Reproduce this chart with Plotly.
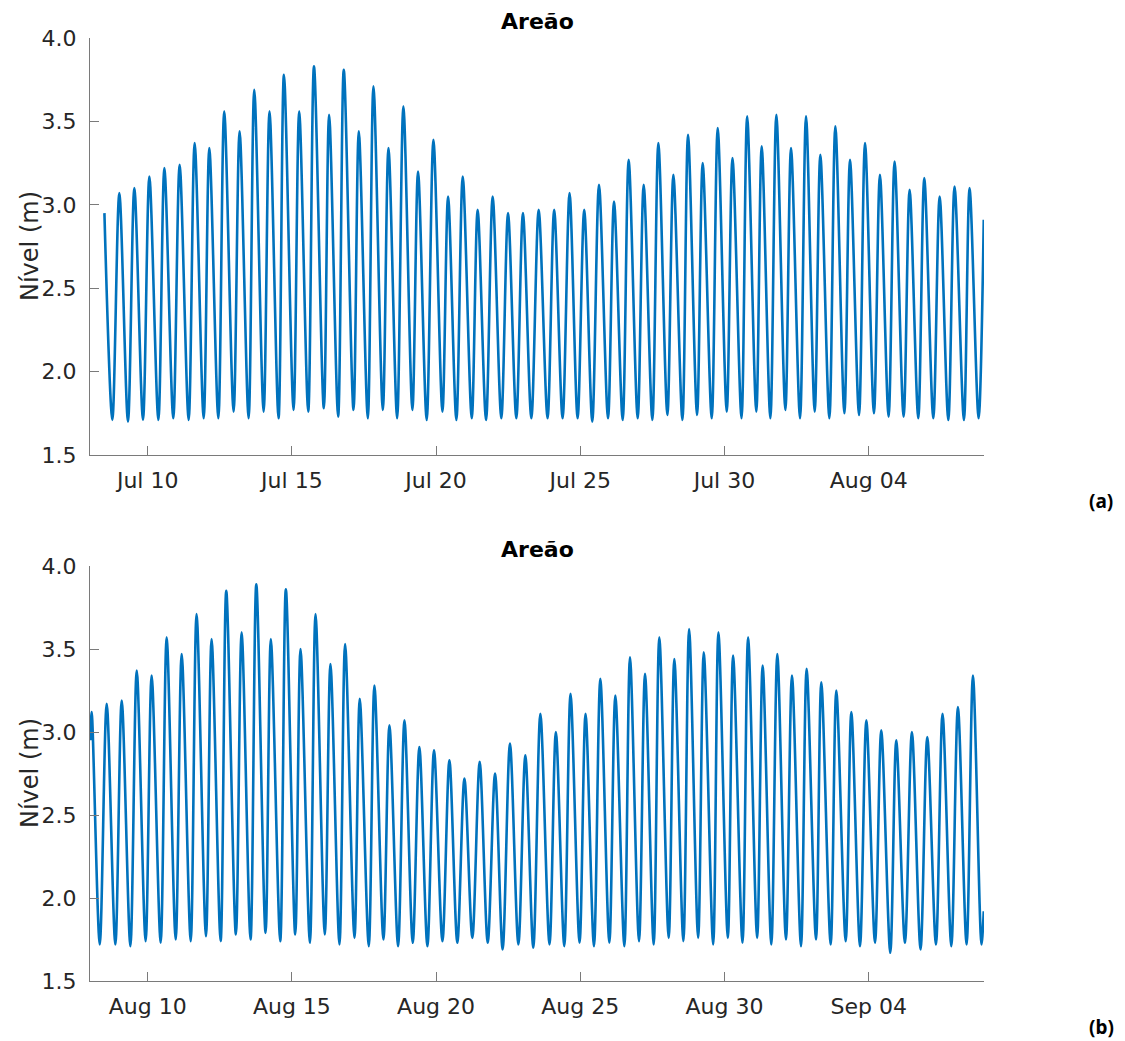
import pandas as pd
import plotly.graph_objects as go

# Tide level at Areão: high/low water turning points (hours after the reference day) and level in metres
top_ref = "2020-07-10 00:00"
top_hours = [
    -36.0, -29.4, -23.6, -16.4, -11.1, -3.9, 1.4, 8.9, 13.9, 21.3,
    26.6, 34.1, 39.1, 46.6, 51.3, 58.8, 63.7, 71.5, 76.5, 84.0,
    88.7, 96.5, 101.4, 108.9, 113.4, 121.4, 126.1, 133.6, 138.4, 146.6,
    151.0, 158.5, 163.2, 171.3, 175.7, 183.2, 187.9, 195.7, 200.4, 207.6,
    212.8, 220.3, 225.0, 232.2, 237.8, 245.3, 250.0, 256.9, 262.2, 269.7,
    274.6, 281.6, 287.1, 294.3, 299.9, 306.8, 312.3, 319.3, 325.4, 332.8,
    338.3, 345.3, 351.1, 357.8, 363.3, 370.0, 375.6, 383.1, 388.1, 395.3,
    400.3, 407.8, 412.8, 420.0, 425.0, 432.5, 437.5, 445.0, 449.7, 457.2,
    461.9, 469.4, 474.4, 481.9, 486.7, 494.2, 498.9, 506.5, 511.0, 518.2,
    523.2, 530.7, 535.4, 542.9, 547.9, 555.1, 559.8, 567.3, 572.3, 579.8,
    584.5, 592.0, 597.0, 604.4, 609.4, 616.6, 621.6, 629.1, 634.1, 641.3,
    646.3, 653.8, 659.1, 666.3, 671.5, 679.3, 684.0, 691.5, 695.8,
]
top_level = [
    2.95, 1.71, 3.07, 1.70, 3.10, 1.71, 3.17, 1.71, 3.22, 1.72,
    3.24, 1.71, 3.37, 1.72, 3.34, 1.72, 3.56, 1.76, 3.44, 1.72,
    3.69, 1.76, 3.56, 1.72, 3.78, 1.77, 3.56, 1.76, 3.83, 1.78,
    3.54, 1.73, 3.81, 1.77, 3.44, 1.72, 3.71, 1.77, 3.34, 1.72,
    3.59, 1.77, 3.20, 1.71, 3.39, 1.76, 3.05, 1.71, 3.17, 1.72,
    2.97, 1.71, 3.05, 1.72, 2.95, 1.72, 2.95, 1.72, 2.97, 1.72,
    2.97, 1.72, 3.07, 1.72, 2.97, 1.70, 3.12, 1.72, 3.02, 1.71,
    3.27, 1.72, 3.12, 1.71, 3.37, 1.74, 3.18, 1.71, 3.42, 1.74,
    3.25, 1.72, 3.46, 1.76, 3.28, 1.72, 3.53, 1.76, 3.35, 1.72,
    3.54, 1.77, 3.34, 1.72, 3.53, 1.76, 3.30, 1.72, 3.47, 1.75,
    3.27, 1.74, 3.37, 1.75, 3.18, 1.73, 3.26, 1.73, 3.09, 1.72,
    3.16, 1.72, 3.05, 1.71, 3.11, 1.71, 3.10, 1.72, 2.91,
]

bottom_ref = "2020-08-10 00:00"
bottom_hours = [
    -47.7, -46.6, -39.9, -34.1, -26.9, -21.6, -14.4, -9.1, -1.7, 3.3,
    10.8, 15.8, 23.3, 28.3, 35.8, 40.7, 48.5, 53.2, 60.7, 65.4,
    73.4, 78.2, 85.6, 90.4, 98.1, 102.5, 110.3, 115.0, 122.8, 127.2,
    135.0, 139.7, 147.4, 152.1, 159.6, 164.3, 172.1, 176.5, 184.0, 188.7,
    196.2, 201.2, 208.4, 213.7, 220.6, 226.1, 232.8, 238.3, 245.3, 251.1,
    257.7, 263.6, 270.2, 276.3, 283.0, 289.1, 295.4, 301.5, 308.5, 314.3,
    320.9, 326.8, 334.4, 339.7, 346.7, 351.9, 359.4, 364.4, 371.4, 376.7,
    384.2, 389.2, 396.7, 401.4, 408.9, 413.9, 421.1, 425.8, 433.6, 438.3,
    445.8, 450.6, 458.1, 462.8, 470.6, 475.0, 482.8, 487.2, 495.0, 499.7,
    507.2, 511.8, 519.0, 524.0, 531.2, 536.2, 543.7, 548.4, 556.2, 560.6,
    568.4, 573.1, 580.9, 585.6, 592.8, 598.1, 605.3, 610.5, 618.0, 623.0,
    630.2, 636.0, 643.2, 648.8, 656.0, 661.5, 668.8, 674.3, 681.5, 686.8,
    693.9, 695.8,
]
bottom_level = [
    2.95, 3.12, 1.72, 3.17, 1.72, 3.19, 1.71, 3.37, 1.74, 3.34,
    1.73, 3.57, 1.75, 3.47, 1.74, 3.71, 1.77, 3.56, 1.74, 3.85,
    1.78, 3.60, 1.75, 3.89, 1.79, 3.56, 1.74, 3.86, 1.78, 3.50,
    1.73, 3.71, 1.78, 3.41, 1.72, 3.53, 1.76, 3.20, 1.71, 3.28,
    1.75, 3.04, 1.71, 3.07, 1.73, 2.91, 1.71, 2.89, 1.74, 2.83,
    1.73, 2.72, 1.76, 2.82, 1.73, 2.75, 1.69, 2.93, 1.72, 2.86,
    1.70, 3.11, 1.72, 3.00, 1.71, 3.23, 1.73, 3.11, 1.71, 3.32,
    1.73, 3.22, 1.71, 3.45, 1.74, 3.35, 1.72, 3.57, 1.76, 3.44,
    1.74, 3.62, 1.76, 3.48, 1.72, 3.60, 1.76, 3.46, 1.73, 3.57,
    1.76, 3.40, 1.72, 3.47, 1.75, 3.34, 1.71, 3.38, 1.75, 3.30,
    1.72, 3.25, 1.74, 3.12, 1.71, 3.07, 1.73, 3.01, 1.67, 2.95,
    1.73, 3.00, 1.69, 2.97, 1.72, 3.11, 1.71, 3.15, 1.72, 3.34,
    1.72, 1.92,
]

top_ticks = ["2020-07-10", "2020-07-15", "2020-07-20", "2020-07-25", "2020-07-30", "2020-08-04"]
bottom_ticks = ["2020-08-10", "2020-08-15", "2020-08-20", "2020-08-25", "2020-08-30", "2020-09-04"]
top_range = ["2020-07-08 00:00", "2020-08-08 00:00"]
bottom_range = ["2020-08-08 00:00", "2020-09-08 00:00"]
level_ticks = [1.5, 2.0, 2.5, 3.0, 3.5, 4.0]

station = "Areão"
y_title = "Nível (m)"
panel_tags = ["(a)", "(b)"]


def to_time(ref, hours):
    return pd.Timestamp(ref) + pd.to_timedelta(hours, unit="h")


LINE = "#0072BD"
AX = "#7a7a7a"
TXT = "#262626"
FONT = "DejaVu Sans"

fig = go.Figure()
fig.add_trace(go.Scatter(
    x=to_time(top_ref, top_hours), y=top_level, mode="lines",
    line=dict(color=LINE, width=2.6, shape="spline", smoothing=0.9),
    xaxis="x", yaxis="y", showlegend=False,
))
fig.add_trace(go.Scatter(
    x=to_time(bottom_ref, bottom_hours), y=bottom_level, mode="lines",
    line=dict(color=LINE, width=2.6, shape="spline", smoothing=0.9),
    xaxis="x2", yaxis="y2", showlegend=False,
))

W, H = 1125, 1041
L, R, T, B = 90, 141, 38, 60
ph = H - T - B


def ypaper(px):
    return (H - B - px) / ph


def xpaper(px):
    return (px - L) / (W - L - R)


xcommon = dict(
    type="date", tickformat="%b %d", ticks="inside", ticklen=9, tickwidth=1,
    tickcolor=AX, showline=True, linecolor=AX, linewidth=1, showgrid=False,
    zeroline=False, tickfont=dict(family=FONT, size=22, color=TXT),
    ticklabelstandoff=6,
)
ycommon = dict(
    range=[1.5, 4.0], tickvals=level_ticks, tickformat=".1f", ticks="inside",
    ticklen=9, tickwidth=1, tickcolor=AX, showline=True, linecolor=AX,
    linewidth=1, showgrid=False, zeroline=False,
    tickfont=dict(family=FONT, size=22, color=TXT), ticklabelstandoff=8,
)

fig.update_layout(
    width=W, height=H,
    margin=dict(l=L, r=R, t=T, b=B),
    paper_bgcolor="white", plot_bgcolor="white",
    xaxis=dict(xcommon, range=top_range, tickvals=top_ticks, anchor="y", domain=[0, 1]),
    yaxis=dict(ycommon, anchor="x", domain=[ypaper(455), 1.0]),
    xaxis2=dict(xcommon, range=bottom_range, tickvals=bottom_ticks, anchor="y2", domain=[0, 1]),
    yaxis2=dict(ycommon, anchor="x2", domain=[0.0, ypaper(566)]),
)

annots = []
for yc in (22, 549):
    annots.append(dict(
        text=f"<b>{station}</b>", x=0.5, y=ypaper(yc), xref="paper", yref="paper",
        xanchor="center", yanchor="middle", showarrow=False,
        font=dict(family=FONT, size=22, color="black"),
    ))
for yc in (246, 773):
    annots.append(dict(
        text=y_title, x=xpaper(30), y=ypaper(yc), xref="paper", yref="paper",
        xanchor="center", yanchor="middle", showarrow=False, textangle=-90,
        font=dict(family=FONT, size=24, color=TXT),
    ))
for tag, yc in zip(panel_tags, (501, 1027)):
    annots.append(dict(
        text=f"<b>{tag}</b>", x=xpaper(1101), y=ypaper(yc), xref="paper", yref="paper",
        xanchor="center", yanchor="middle", showarrow=False,
        font=dict(family="Noto Sans", size=19, color="black"),
    ))
fig.update_layout(annotations=annots)

fig.write_html("out.html")
